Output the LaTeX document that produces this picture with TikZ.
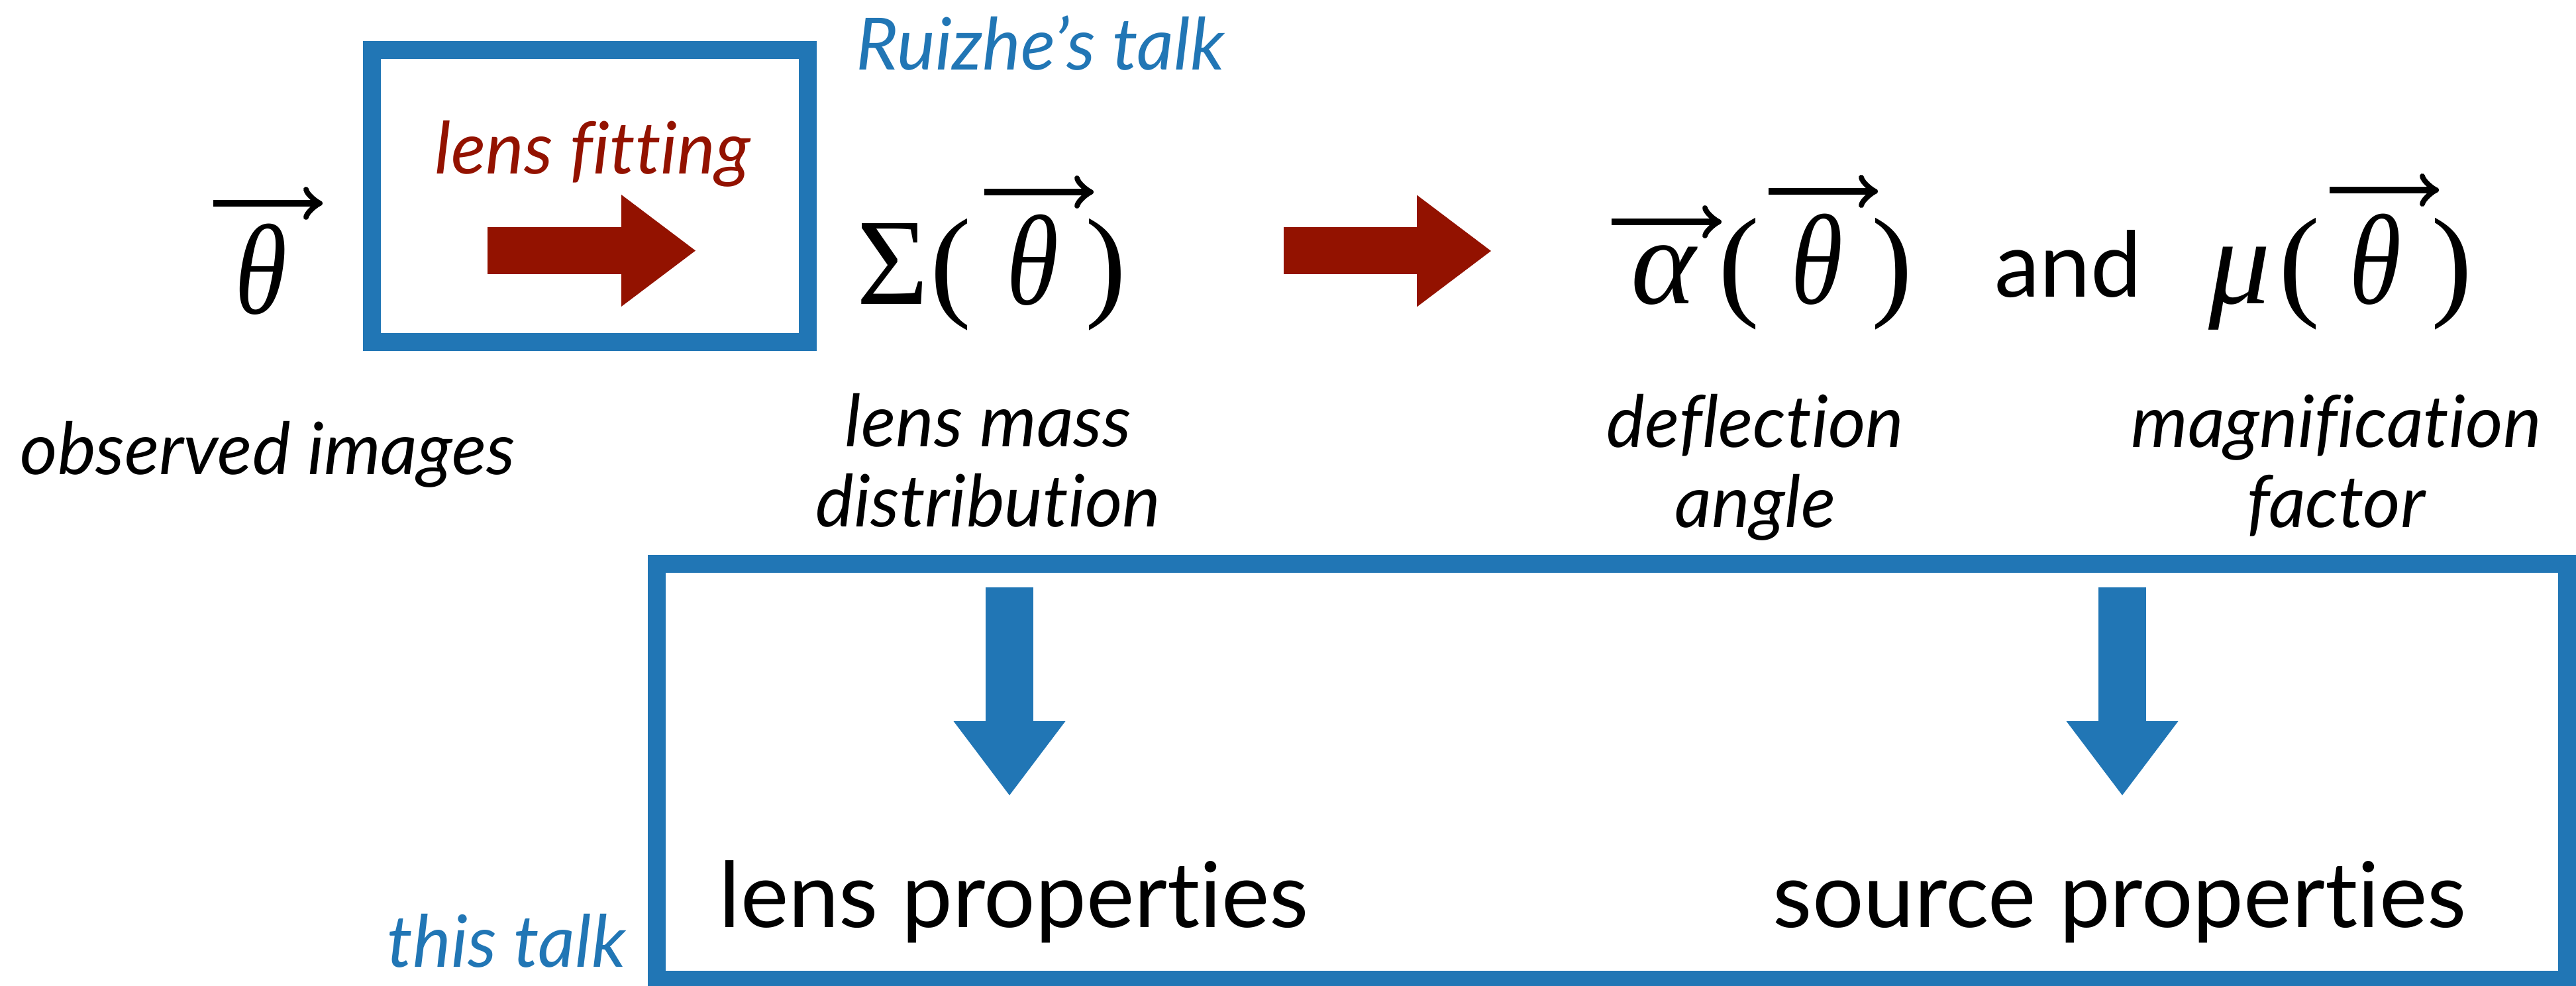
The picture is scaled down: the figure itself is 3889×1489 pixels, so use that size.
\documentclass[tikz,border=0pt]{standalone}
\usepackage{fontspec}
\usepackage{graphicx}
\setmainfont{Lato}[Ligatures=NoCommon]
\newfontfamily\mathserif{Liberation Serif}
\newfontfamily\mathslant{Liberation Serif}[FakeSlant=0.18]
\usetikzlibrary{arrows.meta,calc}
\definecolor{talkblue}{RGB}{33,118,181}
\definecolor{fitred}{RGB}{147,18,0}
\newcommand{\narrowth}{\scalebox{0.86}[1.04]{θ}}
\begin{document}
\begin{tikzpicture}[x=0.1mm,y=-0.1mm,
  lab/.style={inner sep=0pt, font=\fontsize{31}{34.7}\selectfont\itshape, align=center},
  big/.style={inner sep=0pt, font=\fontsize{39}{45}\selectfont},
  sym/.style={inner sep=0pt, anchor=base, font=\mathserif\fontsize{53}{60}\selectfont},
  symit/.style={sym, font=\mathserif\fontsize{53}{60}\selectfont\itshape},
  symth/.style={sym, font=\mathslant\fontsize{53}{60}\selectfont},
  vecar/.style={line width=1mm, -{Classical TikZ Rightarrow[length=2.9mm,width=5mm]}},
  redarrow/.style={draw=fitred, line width=7.1mm, -{Triangle[length=11.2mm,width=16.9mm,line width=0pt]}},
  bluearrow/.style={draw=talkblue, line width=7.2mm, -{Triangle[length=11.2mm,width=16.9mm,line width=0pt]}},
  talkbox/.style={draw=talkblue, line width=2.7mm, inner sep=0pt},
]
\useasboundingbox (0,0) rectangle (3889,1489);

% boxes
\node[talkbox, minimum width=65.8mm, minimum height=44.1mm] (rbox) at (890.5,296) {};
\node[talkbox, minimum width=288.45mm, minimum height=62.85mm] (tbox) at (2433.25,1165.75) {};

% labels
\node[lab, anchor=base west, text=talkblue] (ruizhe) at (1292,106) {Ruizhe’s talk};
\node[lab, anchor=base, text=fitred] (fit) at (895,263) {lens fitting};
\node[lab, anchor=base west] (obs) at (30,717) {observed images};
\node[lab, anchor=base] (mass) at (1492,796) {lens mass\\distribution};
\node[lab, anchor=base] (defl) at (2650,797) {deflection\\angle};
\node[lab, anchor=base] (magn) at (3527,797) {magnification\\factor};
\node[lab, anchor=base west, text=talkblue] (this) at (584,1460) {this talk};
\node[big, anchor=base west] (lprop) at (1085,1400) {lens properties};
\node[big, anchor=base west] (sprop) at (2676,1400) {source properties};
\node[big, anchor=base west] (and) at (3011,449) {and};

% math
\node[symth] (t1) at (386,474) {\narrowth};
\node[sym] (sig) at (1348,460) {Σ};
\node[sym] (lp2) at (1436,460) {(};
\node[symth] (t2) at (1551,460) {\narrowth};
\node[sym] (rp2) at (1670,460) {)};
\node[symit] (al) at (2511,459) {α};
\node[sym] (lp3) at (2625,459) {(};
\node[symth] (t3) at (2735,459) {\narrowth};
\node[sym] (rp3) at (2856,459) {)};
\node[symit] (mu) at (3381,459) {μ};
\node[sym] (lp4) at (3471,459) {(};
\node[symth] (t4) at (3578,459) {\narrowth};
\node[sym] (rp4) at (3701,459) {)};

% vector arrows
\draw[vecar] ($(t1.base)+(-64,-167)$) -- ++(165,0);
\draw[vecar] ($(t2.base)+(-65,-170)$) -- ++(165,0);
\draw[vecar] ($(t3.base)+(-65,-170)$) -- ++(165,0);
\draw[vecar] ($(t4.base)+(-61,-172)$) -- ++(165,0);
\draw[vecar] ($(al.base)+(-78,-124)$) -- ++(166,0);

% block arrows
\coordinate (r1a) at (736,378.5);
\coordinate (r1b) at (1050,378.5);
\coordinate (r2a) at (1938,379);
\coordinate (r2b) at (2251,379);
\coordinate (b1a) at (1524,887);
\coordinate (b1b) at (1524,1201);
\coordinate (b2a) at (3204,887);
\coordinate (b2b) at (3204,1201);
\draw[redarrow] (r1a) -- (r1b);
\draw[redarrow] (r2a) -- (r2b);
\draw[bluearrow] (b1a) -- (b1b);
\draw[bluearrow] (b2a) -- (b2b);
\end{tikzpicture}
\end{document}
